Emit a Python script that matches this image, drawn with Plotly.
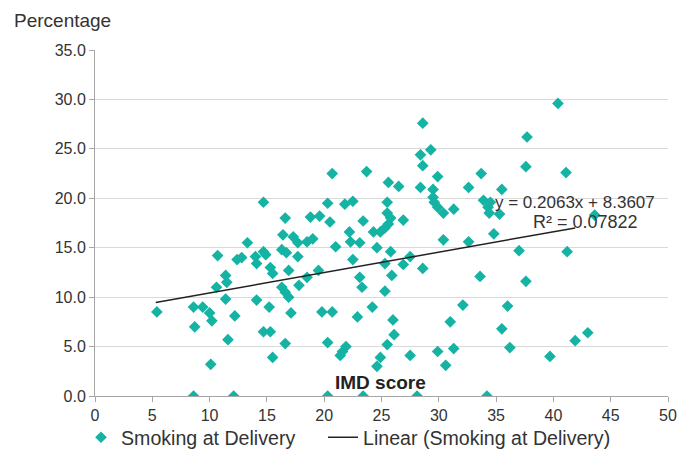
import plotly.graph_objects as go

imd_score = [
    5.4, 8.6, 9.4, 10.0, 10.2, 8.7, 10.1, 8.6, 12.1, 10.7, 11.4, 11.5, 10.6, 11.4, 12.2, 11.6,
    12.4, 12.8, 13.3, 14.0, 14.7, 14.9, 14.7, 14.1, 15.3, 15.5, 14.1, 15.2, 14.7, 15.3, 15.5,
    16.6, 16.4, 16.3, 16.7, 16.9, 16.3, 16.9, 16.6, 16.6,
    17.3, 17.7, 18.5, 19.0, 17.7, 18.8, 19.6, 19.5, 18.5, 17.8, 17.1, 19.8, 20.7, 20.3, 20.3,
    20.7, 23.7, 20.3, 21.8, 22.5, 20.5, 23.4, 22.2, 22.3, 23.1, 24.3, 24.6, 21.0, 22.5, 23.1,
    23.3, 22.9, 24.2, 21.6, 21.4, 23.4, 24.6, 24.9, 21.9,
    25.6, 26.5, 25.5, 25.5, 25.8, 25.6, 25.3, 26.9, 24.9, 25.8, 25.3, 26.9, 27.5, 28.6, 25.9,
    25.3, 26.0, 26.1, 25.5, 27.5, 28.1, 28.6, 29.3, 28.4, 28.6, 29.9, 28.4, 29.5, 29.5, 29.9,
    30.4, 31.3, 30.4, 29.9, 29.6,
    32.6, 33.7, 33.9, 34.3, 32.6, 33.6, 34.2, 31.0, 32.1, 31.3, 30.6,
    40.4, 37.7, 37.6, 41.1, 35.5, 34.5, 34.4, 35.3, 43.6, 34.8, 37.0, 41.2, 37.6, 36.0, 35.5,
    36.2, 39.7, 41.9, 43.0,
]
smoking_pct = [
    8.5, 9.0, 9.0, 8.4, 7.6, 7.0, 3.2, 0.0, 0.0, 14.2, 12.2, 11.5, 11.0, 9.8, 8.1, 5.7,
    13.8, 14.0, 15.5, 14.1, 14.6, 14.3, 19.6, 13.4, 13.0, 12.4, 9.7, 9.0, 6.5, 6.5, 3.9,
    18.0, 16.3, 14.8, 14.5, 12.7, 11.0, 10.0, 5.3, 10.5,
    16.1, 15.5, 15.6, 15.9, 14.1, 18.1, 18.2, 12.7, 12.0, 11.2, 8.4, 8.5, 8.5, 5.4, 0.0,
    22.5, 22.7, 19.5, 19.4, 19.7, 17.6, 17.7, 16.6, 15.6, 15.5, 16.6, 15.0, 15.1, 13.8, 12.0,
    11.0, 8.0, 9.0, 4.5, 4.1, 0.0, 3.0, 3.9, 5.0,
    21.6, 21.2, 19.6, 18.5, 18.0, 17.4, 17.0, 17.8, 16.6, 14.6, 13.4, 13.3, 14.1, 12.9, 12.2,
    10.6, 7.7, 6.2, 5.2, 4.1, 0.0, 27.6, 24.9, 24.4, 23.3, 22.2, 21.1, 20.9, 20.1, 19.1,
    18.5, 18.9, 15.8, 4.5, 19.6,
    21.1, 22.5, 19.8, 19.1, 15.6, 12.1, 0.0, 7.5, 9.2, 4.8, 3.1,
    29.6, 26.2, 23.2, 22.6, 20.9, 19.6, 18.5, 18.4, 18.3, 16.4, 14.7, 14.6, 11.6, 9.1, 6.8,
    4.9, 4.0, 5.6, 6.4,
]

trend_slope = 0.2063
trend_intercept = 8.3607
trend_x = [5.3, 41.9]
trend_y = [trend_slope * v + trend_intercept for v in trend_x]

x_ticks = list(range(0, 51, 5))
y_ticks = [0, 5, 10, 15, 20, 25, 30, 35]

teal = "#14B3A3"
font_family = "Liberation Sans, Arial, sans-serif"
text_col = "#333333"

fig = go.Figure()
fig.add_trace(go.Scatter(
    x=imd_score, y=smoking_pct, mode="markers", name="Smoking at Delivery",
    marker=dict(symbol="diamond", size=9, color=teal, line=dict(width=0)),
    legend="legend",
))
fig.add_trace(go.Scatter(
    x=trend_x, y=trend_y, mode="lines", name="Linear (Smoking at Delivery)",
    line=dict(color="#222222", width=1.5),
    legend="legend2",
))

legend_common = dict(
    orientation="h", xanchor="left", y=-0.12, yanchor="middle",
    font=dict(size=19.6, color=text_col), itemwidth=30, bgcolor="rgba(0,0,0,0)",
)

fig.update_layout(
    width=680, height=450,
    margin=dict(l=95, r=12, t=50, b=54, autoexpand=False),
    paper_bgcolor="white", plot_bgcolor="white",
    font=dict(family=font_family, size=16, color=text_col),
    showlegend=True,
    legend=dict(x=(81 - 95) / 573, **legend_common),
    legend2=dict(x=(323 - 95) / 573, **legend_common),
    xaxis=dict(
        range=[0, 50], tickvals=x_ticks, ticktext=[str(v) for v in x_ticks],
        showgrid=False, zeroline=False, showline=True, linecolor="#A6A6A6", linewidth=1,
        ticks="outside", ticklen=5, tickcolor="#A6A6A6",
        tickfont=dict(size=16, color=text_col),
    ),
    yaxis=dict(
        range=[0, 35], tickvals=y_ticks, tickformat=".1f",
        showgrid=True, gridcolor="#D9D9D9", gridwidth=1, zeroline=False,
        showline=True, linecolor="#A6A6A6", linewidth=1,
        ticks="outside", ticklen=5, tickcolor="#A6A6A6",
        tickfont=dict(size=16, color=text_col),
    ),
)

fig.add_annotation(text="Percentage", xref="paper", yref="paper",
                   x=(12 - 95) / 573, y=(396 - 20) / 346, xanchor="left", yanchor="middle",
                   showarrow=False, font=dict(size=19, color=text_col))
fig.add_annotation(text="<b>IMD score</b>", xref="paper", yref="paper",
                   x=(380 - 95) / 573, y=(396 - 382) / 346, xanchor="center", yanchor="middle",
                   showarrow=False, font=dict(size=19, color="#222222"))
fig.add_annotation(text="y = 0.2063x + 8.3607", xref="paper", yref="paper",
                   x=(575 - 95) / 573, y=(396 - 202) / 346, xanchor="center", yanchor="middle",
                   showarrow=False, font=dict(size=17, color=text_col))
fig.add_annotation(text="R² = 0.07822", xref="paper", yref="paper",
                   x=(585 - 95) / 573, y=(396 - 222) / 346, xanchor="center", yanchor="middle",
                   showarrow=False, font=dict(size=18, color=text_col))

fig.write_html("out.html", config={"displayModeBar": False},
               post_script="document.body.style.margin='0';")
